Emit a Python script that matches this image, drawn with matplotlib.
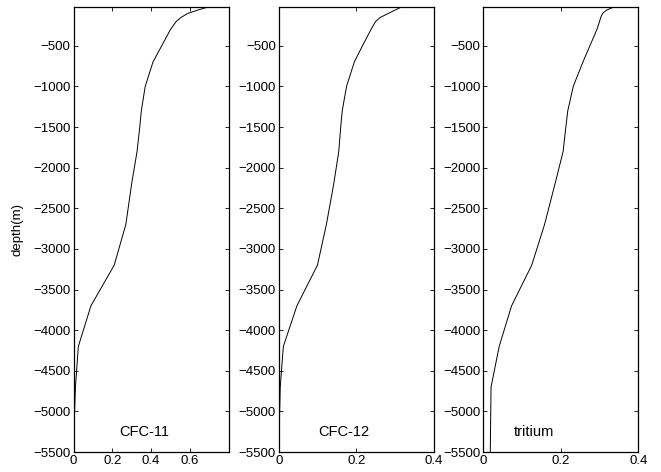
import numpy as np
import matplotlib
matplotlib.use("Agg")
import matplotlib.pyplot as plt

plt.rcParams['font.family'] = ['Liberation Sans', 'DejaVu Sans']

# depth grid (m) shared by the three profiles
depth = [-25, -60, -100, -150, -200, -300, -500, -700, -1000, -1300, -1500,
         -1800, -2200, -2700, -3200, -3700, -4200, -4700, -5100, -5500]

cfc11 = [0.69, 0.64, 0.59, 0.555, 0.53, 0.50, 0.455, 0.41, 0.37, 0.35, 0.342,
         0.328, 0.30, 0.27, 0.21, 0.09, 0.025, 0.01, 0.004, 0.001]
cfc12 = [0.315, 0.30, 0.283, 0.262, 0.25, 0.238, 0.216, 0.195, 0.175, 0.164, 0.16,
         0.155, 0.142, 0.123, 0.10, 0.047, 0.012, 0.004, 0.002, 0.001]
tritium = [0.335, 0.318, 0.308, 0.303, 0.30, 0.293, 0.275, 0.257, 0.232, 0.218, 0.213,
           0.206, 0.185, 0.158, 0.125, 0.073, 0.041, 0.02, 0.019, 0.018]

names = ["CFC-11", "CFC-12", "tritium"]
series = [cfc11, cfc12, tritium]
xmax = [0.8, 0.4, 0.4]
xticks = [[0, 0.2, 0.4, 0.6], [0, 0.2, 0.4], [0, 0.2, 0.4]]
xticklabels = [["0", "0.2", "0.4", "0.6"], ["0", "0.2", "0.4"], ["0", "0.2", "0.4"]]
label_x = [0.237, 0.102, 0.078]
yticks = list(range(-5500, 0, 500))

fig = plt.figure(figsize=(6.61, 4.72), dpi=100)
lefts = [73.5 / 661, 278.7 / 661, 483.3 / 661]
bottom = 20 / 472
height = 444.7 / 472
width = 155 / 661

for i in range(3):
    ax = fig.add_axes([lefts[i], bottom, width, height])
    ax.plot(series[i], depth, color='black', linewidth=0.7)
    ax.set_xlim(0, xmax[i])
    ax.set_ylim(-5500, -25)
    ax.set_xticks(xticks[i])
    ax.set_xticklabels(xticklabels[i])
    ax.set_yticks(yticks)
    ax.set_yticklabels([str(t).replace('-', '\u2212') for t in yticks])
    ax.tick_params(direction='in', top=True, right=True, length=3,
                   width=0.6, labelsize=9.5, pad=2)
    for s in ax.spines.values():
        s.set_linewidth(0.9)
    ax.text(label_x[i], -5250, names[i], fontsize=10.5, ha='left', va='center')
    if i == 0:
        ax.set_ylabel("depth(m)", fontsize=9.5)
        ax.yaxis.set_label_coords(-0.325, 0.5)

fig.savefig("out.png", dpi=100)
